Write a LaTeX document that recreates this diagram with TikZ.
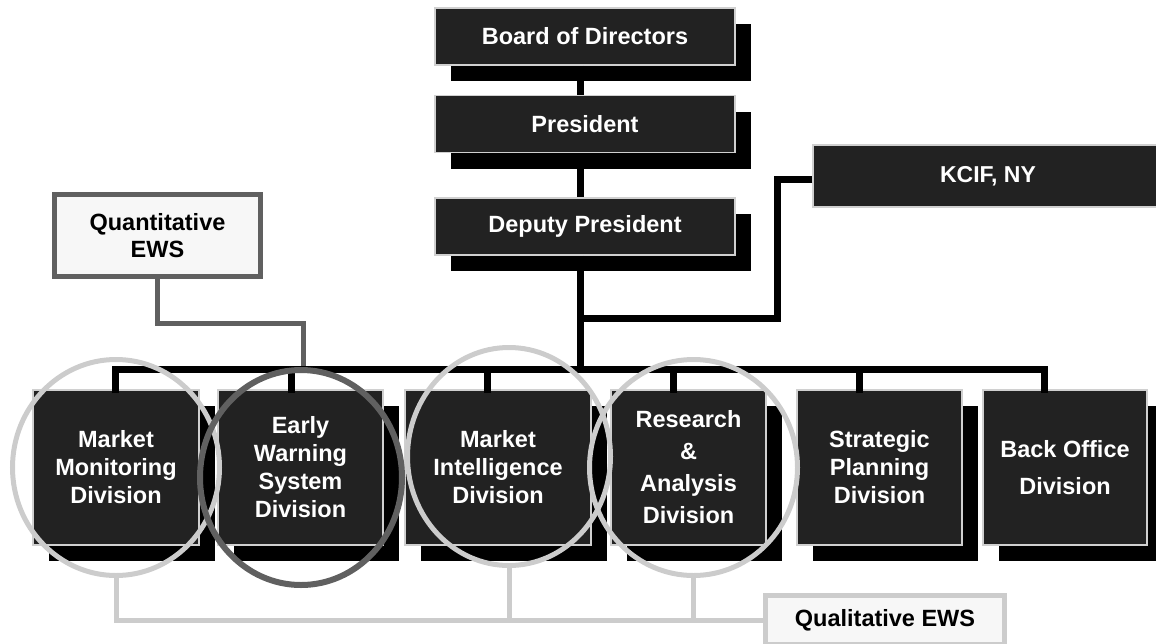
\documentclass[tikz,border=0pt]{standalone}
\usepackage{fontspec}
\setmainfont{Liberation Sans}
\usetikzlibrary{shapes.geometric,shadows,calc}
\definecolor{boxfill}{HTML}{222222}
\definecolor{boxline}{HTML}{D0D0D0}
\definecolor{lgray}{HTML}{CCCCCC}
\definecolor{dgray}{HTML}{606060}
\definecolor{pale}{HTML}{F7F7F7}
\begin{document}
\begin{tikzpicture}[x=1pt,y=-1pt,
  dark/.style={rectangle,draw=boxline,line width=1.5pt,fill=boxfill,text=white,inner sep=0pt,align=center,font=\fontsize{23.5}{28}\selectfont\bfseries},
  shadowed/.style={drop shadow={shadow xshift=16pt,shadow yshift=-16pt,fill=black,opacity=1}},
  topbox/.style={dark,shadowed,minimum width=300pt,minimum height=57pt},
  divbox/.style={dark,shadowed,minimum height=155pt},
  ewsbox/.style={rectangle,fill=pale,text=black,inner sep=0pt,align=center,font=\fontsize{23.5}{27}\selectfont\bfseries},
  conn/.style={line width=7pt,black},
  qconn/.style={line width=5pt,dgray},
  lconn/.style={line width=5pt,lgray},
  ring/.style={ellipse,draw=lgray,line width=5pt,inner sep=0pt}]
\useasboundingbox (0,0) rectangle (1156,643);
\clip (0,0) rectangle (1156,643);

% top chain
\node[topbox] (board) at (585,36.5) {Board of Directors};
\node[topbox] (pres) at (585,124) {President};
\node[topbox] (dep) at (585,226.5) {Deputy President};
\node[dark,minimum width=350pt,minimum height=62pt,font=\fontsize{23}{28}\selectfont\bfseries] (kcif) at (988,176) {KCIF, NY};

% divisions
\node[divbox,minimum width=166pt] (mm) at (116,467.5) {Market\\Monitoring\\Division};
\node[divbox,minimum width=165pt] (ew) at (300.5,467.5) {Early\\Warning\\System\\Division};
\node[divbox,minimum width=186pt] (mi) at (498,467.5) {Market\\Intelligence\\Division};
\node[divbox,minimum width=155pt,font=\fontsize{23.5}{32}\selectfont\bfseries] (ra) at (688.5,467.5) {Research\\\&\\Analysis\\Division};
\node[divbox,minimum width=165pt] (sp) at (879.5,467.5) {Strategic\\Planning\\Division};
\node[divbox,minimum width=164pt,font=\fontsize{23.5}{37}\selectfont\bfseries] (bo) at (1065,467.5) {Back Office\\Division};

% EWS boxes
\node[ewsbox,draw=dgray,line width=5pt,minimum width=206pt,minimum height=82pt] (quant) at (157.5,235.5) {Quantitative\\EWS};
\node[ewsbox,draw=lgray,line width=5pt,minimum width=239pt,minimum height=49pt] (qual) at (885,620) {Qualitative EWS};

% coordinates
\coordinate (bj) at (580,369);
\coordinate (kj) at (580,318);
\coordinate (kc) at (777,318);
\coordinate (qc) at (303,323);
\coordinate (b1) at (115,369);
\coordinate (b2) at (291,369);
\coordinate (b3) at (487,369);
\coordinate (b4) at (673,369);
\coordinate (b5) at (859,369);
\coordinate (b6) at (1044,369);
\coordinate (gy) at (0,620);

% quantitative connector
\draw[qconn] (quant.south) |- (qc) -- ($(qc |- bj)+(0,-3.5)$);

% black connectors
\draw[conn] (board.south -| bj) -- (pres.north -| bj);
\draw[conn] (pres.south -| bj) -- (dep.north -| bj);
\draw[conn] (dep.south -| bj) -- (bj);
\draw[conn] ($(kcif.west)+(0,3)$) -| (kc) -- (kj);
\draw[conn] ($(mm.north -| b1)+(0,4)$) -- (b1) -- (b6) -- ($(bo.north -| b6)+(0,4)$);
\draw[conn] (b2) -- ($(ew.north -| b2)+(0,4)$);
\draw[conn] (b3) -- ($(mi.north -| b3)+(0,4)$);
\draw[conn] (b4) -- ($(ra.north -| b4)+(0,4)$);
\draw[conn] (b5) -- ($(sp.north -| b5)+(0,4)$);

% rings
\node[ring,minimum width=207pt,minimum height=216pt] (mmc) at (116,467.5) {};
\node[ring,minimum width=203pt,minimum height=218pt] (mic) at (509,456.5) {};
\node[ring,minimum width=208pt,minimum height=216pt] (rac) at (693.5,467.5) {};
\node[ring,draw=dgray,line width=6pt,minimum width=202pt,minimum height=215pt] (ewc) at (301,477.5) {};

% qualitative connectors
\draw[lconn] (mmc.south) -- (mmc.south |- gy) -- (qual.west);
\draw[lconn] (mic.south) -- (mic.south |- gy);
\draw[lconn] (rac.south) -- (rac.south |- gy);
\end{tikzpicture}
\end{document}
